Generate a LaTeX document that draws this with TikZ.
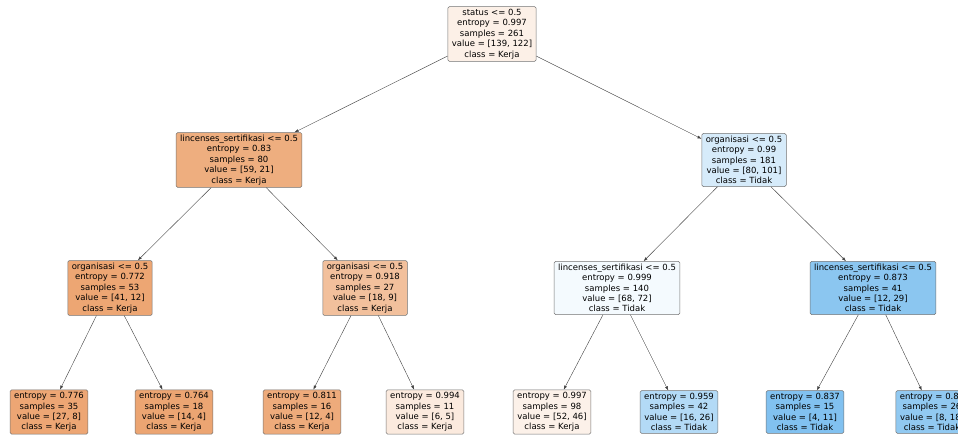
\documentclass[tikz,border=0pt]{standalone}
\usepackage{fontspec}
\setmainfont{DejaVu Sans}
\usetikzlibrary{arrows.meta}
% node fills (class Kerja = orange, class Tidak = blue)
\definecolor{kA}{RGB}{252,240,231}
\definecolor{kB}{RGB}{238,174,127}
\definecolor{kC}{RGB}{237,166,115}
\definecolor{kD}{RGB}{242,192,156}
\definecolor{kE}{RGB}{237,166,116}
\definecolor{kF}{RGB}{236,165,114}
\definecolor{kG}{RGB}{238,171,123}
\definecolor{kH}{RGB}{251,234,222}
\definecolor{kI}{RGB}{252,241,233}
\definecolor{tA}{RGB}{214,235,250}
\definecolor{tB}{RGB}{244,250,254}
\definecolor{tC}{RGB}{139,198,240}
\definecolor{tD}{RGB}{179,218,246}
\definecolor{tE}{RGB}{129,193,240}
\definecolor{tF}{RGB}{145,201,241}

\begin{document}
\begin{tikzpicture}[x=1pt,y=-1pt,>={Latex[length=4pt,width=3pt]},
  box/.style={draw=black!55,line width=0.5pt,rounded corners=1.5pt,align=center,
    inner xsep=4pt,inner ysep=2.5pt,font=\fontsize{8.5}{10.4}\selectfont},
  edge/.style={->,black!75,line width=0.4pt}]
  \useasboundingbox (0,0) rectangle (958,435);
  % root
  \node[box,fill=kA] (root) at (492,34)
    {status <= 0.5\\entropy = 0.997\\samples = 261\\value = [139, 122]\\class = Kerja};
  % first split
  \node[box,fill=kB] (sL) at (239,160)
    {lincenses\_sertifikasi <= 0.5\\entropy = 0.83\\samples = 80\\value = [59, 21]\\class = Kerja};
  \node[box,fill=tA] (sR) at (744,160)
    {organisasi <= 0.5\\entropy = 0.99\\samples = 181\\value = [80, 101]\\class = Tidak};
  % second split
  \node[box,fill=kC] (sLL) at (110,288)
    {organisasi <= 0.5\\entropy = 0.772\\samples = 53\\value = [41, 12]\\class = Kerja};
  \node[box,fill=kD] (sLR) at (365,288)
    {organisasi <= 0.5\\entropy = 0.918\\samples = 27\\value = [18, 9]\\class = Kerja};
  \node[box,fill=tB] (sRL) at (617,288)
    {lincenses\_sertifikasi <= 0.5\\entropy = 0.999\\samples = 140\\value = [68, 72]\\class = Tidak};
  \node[box,fill=tC] (sRR) at (873,288)
    {lincenses\_sertifikasi <= 0.5\\entropy = 0.873\\samples = 41\\value = [12, 29]\\class = Tidak};
  % leaves
  \foreach \n/\x/\col/\e/\s/\v/\c in {
      a/49/kE/0.776/35/{[27, 8]}/Kerja,
      b/174/kF/0.764/18/{[14, 4]}/Kerja,
      c/302/kG/0.811/16/{[12, 4]}/Kerja,
      d/425/kH/0.994/11/{[6, 5]}/Kerja,
      e/552/kI/0.997/98/{[52, 46]}/Kerja,
      f/679/tD/0.959/42/{[16, 26]}/Tidak,
      g/805/tE/0.837/15/{[4, 11]}/Tidak,
      h/932/tF/0.89/26/{[8, 18]}/Tidak}
    \node[box,fill=\col] (leaf\n) at (\x,412)
      {entropy = \e\\samples = \s\\value = \v\\class = \c};
  % connectors
  \foreach \p/\q in {root/sL,root/sR,sL/sLL,sL/sLR,sR/sRL,sR/sRR,
      sLL/leafa,sLL/leafb,sLR/leafc,sLR/leafd,sRL/leafe,sRL/leaff,sRR/leafg,sRR/leafh}
    \draw[edge] (\p) -- (\q);
\end{tikzpicture}
\end{document}
